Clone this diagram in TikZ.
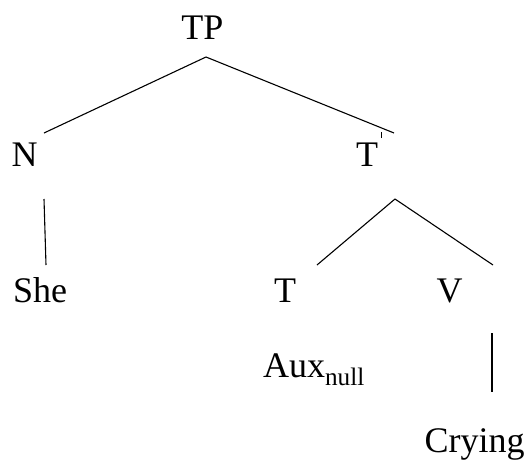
\documentclass[tikz,border=0pt]{standalone}
\usepackage{fontspec}
\setmainfont{Liberation Serif}
\begin{document}
\begin{tikzpicture}[x=1pt,y=-1pt,
  lbl/.style={anchor=base,inner sep=0pt,font=\fontsize{36}{42}\selectfont},
  edge/.style={line width=1.1pt}]
\useasboundingbox (0,0) rectangle (528,461);
% labels
\node[lbl] (TP) at (202.5,39) {TP};
\node[lbl] (N) at (24.5,166) {N};
\node[lbl] (Tbar) at (367,166) {T\rlap{\hspace{3.5pt}\raisebox{28pt}{\rule{0.8pt}{6pt}}}};
\node[lbl] (She) at (40,302) {She};
\node[lbl] (T) at (285,302) {T};
\node[lbl] (V) at (449.5,302) {V};
\node[lbl] (Aux) at (314,377) {Aux\textsubscript{null}};
\node[lbl] (Cry) at (474.5,452) {Crying};
% connector ends
\coordinate (tpB) at (206,57);
\coordinate (nT) at (44,133);
\coordinate (tbT) at (394,133);
\coordinate (nB) at (44,199);
\coordinate (sheT) at (46,265);
\coordinate (tbB) at (395,199);
\coordinate (tT) at (317,265);
\coordinate (vT) at (493,265);
\coordinate (vB) at (492,333);
\coordinate (cryT) at (492,392);
\draw[edge] (tpB) -- (nT);
\draw[edge] (tpB) -- (tbT);
\draw[edge] (nB) -- (sheT);
\draw[edge] (tbB) -- (tT);
\draw[edge] (tbB) -- (vT);
\draw[edge] (vB) -- (cryT);
\end{tikzpicture}
\end{document}
